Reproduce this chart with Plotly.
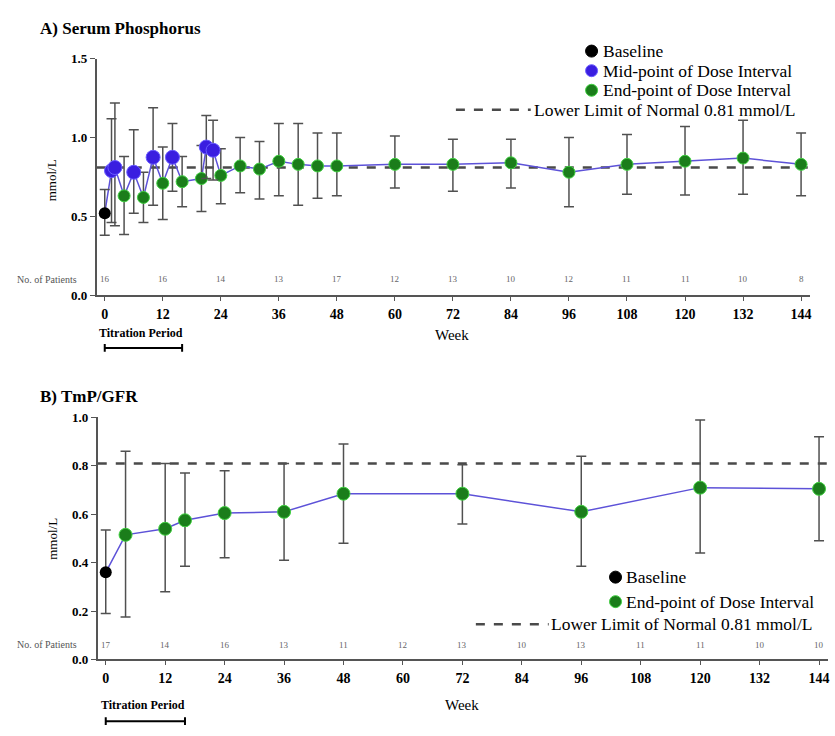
import plotly.graph_objects as go

# ---------------- Data ----------------
weeks_ticks = [0, 12, 24, 36, 48, 60, 72, 84, 96, 108, 120, 132, 144]

# Panel A: Serum Phosphorus
base_week_A = [0]
base_A = [0.52]
base_hi_A = [0.67]
base_lo_A = [0.38]

mid_week_A = [1.4, 2.1, 6, 10, 14, 21, 22.4]
mid_A = [0.79, 0.81, 0.78, 0.875, 0.875, 0.94, 0.92]
mid_hi_A = [1.12, 1.22, 1.05, 1.19, 1.09, 1.14, 1.11]
mid_lo_A = [0.46, 0.44, 0.52, 0.57, 0.66, 0.74, 0.73]

end_week_A = [4, 8, 12, 16, 20, 24, 28, 32, 36, 40, 44, 48, 60, 72, 84, 96, 108, 120, 132, 144]
end_A = [0.63, 0.62, 0.71, 0.72, 0.74, 0.76, 0.82, 0.80, 0.85, 0.83, 0.82, 0.82, 0.83, 0.83, 0.84, 0.78, 0.83, 0.85, 0.87, 0.83]
end_hi_A = [0.88, 0.78, 0.94, 0.88, 0.95, 0.93, 1.00, 0.975, 1.09, 1.09, 1.03, 1.03, 1.01, 0.99, 0.99, 1.00, 1.02, 1.07, 1.11, 1.03]
end_lo_A = [0.385, 0.46, 0.48, 0.56, 0.53, 0.58, 0.65, 0.61, 0.63, 0.57, 0.615, 0.63, 0.68, 0.66, 0.68, 0.56, 0.64, 0.635, 0.64, 0.63]

n_patients_A = ["16", "16", "14", "13", "17", "12", "13", "10", "12", "11", "11", "10", "8"]

# Panel B: TmP/GFR
base_week_B = [0]
base_B = [0.36]
base_hi_B = [0.535]
base_lo_B = [0.19]

end_week_B = [4, 12, 16, 24, 36, 48, 72, 96, 120, 144]
end_B = [0.515, 0.54, 0.575, 0.605, 0.61, 0.685, 0.685, 0.61, 0.71, 0.705]
end_hi_B = [0.86, 0.81, 0.77, 0.78, 0.81, 0.89, 0.805, 0.84, 0.99, 0.92]
end_lo_B = [0.175, 0.28, 0.385, 0.42, 0.41, 0.48, 0.56, 0.385, 0.44, 0.49]

n_patients_B = ["17", "14", "16", "13", "11", "12", "13", "10", "13", "11", "11", "10", "10"]

LLN = 0.81
titration_weeks = [0, 16]

# ---------------- Style ----------------
W, H = 835, 736
FONT = "Liberation Serif"
BLACK = "#000000"
BLUE = "#3a1ee0"
GREEN = "#1b7d1b"
GREEN_EDGE = "#3fcf3f"
LINE = "#5d52d8"
ERR = "#505050"
AXIS = "#555555"


def px(x):
    return x / W


def py(y):
    return 1 - y / H


def err(vals, hi, lo):
    return dict(type="data", symmetric=False,
                array=[h - v for v, h in zip(vals, hi)],
                arrayminus=[v - l for v, l in zip(vals, lo)],
                color=ERR, thickness=1.5, width=5)


fig = go.Figure()

# ---- Panel A ----
allA = sorted(list(zip(base_week_A, base_A)) + list(zip(mid_week_A, mid_A)) + list(zip(end_week_A, end_A)))
fig.add_trace(go.Scatter(x=[p[0] for p in allA], y=[p[1] for p in allA], mode="lines",
                         line=dict(color=LINE, width=1.5), xaxis="x", yaxis="y", showlegend=False))
fig.add_trace(go.Scatter(x=end_week_A, y=end_A, mode="markers", xaxis="x", yaxis="y",
                         marker=dict(size=12, color=GREEN, line=dict(color=GREEN_EDGE, width=1)),
                         error_y=err(end_A, end_hi_A, end_lo_A), showlegend=False))
fig.add_trace(go.Scatter(x=mid_week_A, y=mid_A, mode="markers", xaxis="x", yaxis="y",
                         marker=dict(size=14, color=BLUE, line=dict(color="#6a5cff", width=1)),
                         error_y=err(mid_A, mid_hi_A, mid_lo_A), showlegend=False))
fig.add_trace(go.Scatter(x=base_week_A, y=base_A, mode="markers", xaxis="x", yaxis="y",
                         marker=dict(size=12, color=BLACK),
                         error_y=err(base_A, base_hi_A, base_lo_A), showlegend=False))

# ---- Panel B ----
allB = list(zip(base_week_B, base_B)) + list(zip(end_week_B, end_B))
fig.add_trace(go.Scatter(x=[p[0] for p in allB], y=[p[1] for p in allB], mode="lines",
                         line=dict(color=LINE, width=1.5), xaxis="x2", yaxis="y2", showlegend=False))
fig.add_trace(go.Scatter(x=end_week_B, y=end_B, mode="markers", xaxis="x2", yaxis="y2",
                         marker=dict(size=13, color=GREEN, line=dict(color=GREEN_EDGE, width=1)),
                         error_y=err(end_B, end_hi_B, end_lo_B), showlegend=False))
fig.add_trace(go.Scatter(x=base_week_B, y=base_B, mode="markers", xaxis="x2", yaxis="y2",
                         marker=dict(size=12, color=BLACK),
                         error_y=err(base_B, base_hi_B, base_lo_B), showlegend=False))

# ---- Axes ----
xcommon = dict(tickmode="array", tickvals=weeks_ticks, ticktext=[str(t) for t in weeks_ticks],
               showline=True, linecolor=AXIS, linewidth=2, ticks="outside", ticklen=4,
               tickcolor=AXIS, showgrid=False, zeroline=False,
               tickfont=dict(family=FONT, size=14, color="black", weight="bold"),
               ticklabelstandoff=1)
ycommon = dict(showline=True, linecolor=AXIS, linewidth=2, ticks="outside", ticklen=5,
               tickcolor=AXIS, showgrid=False, zeroline=False, tickformat=".1f",
               tickfont=dict(family=FONT, size=13, color="black", weight="bold"))

pxA = (803 - 105) / 144
pxB = (821 - 106) / 144
fig.update_layout(
    xaxis=dict(domain=[px(97), px(812)], range=[-(105 - 97) / pxA, 144 + (812 - 803) / pxA],
               anchor="y", **xcommon),
    yaxis=dict(domain=[py(294), py(53)], range=[0, 1.5], tickvals=[0, 0.5, 1.0, 1.5],
               anchor="x", **ycommon),
    xaxis2=dict(domain=[px(98), px(830)], range=[-(106 - 98) / pxB, 144 + (830 - 821) / pxB],
                anchor="y2", **xcommon),
    yaxis2=dict(domain=[py(666), py(419)], range=[0, 1.0], tickvals=[0, 0.2, 0.4, 0.6, 0.8, 1.0],
                anchor="x2", **ycommon),
)

shapes = []
annotations = []


def note(x, y, text, size, xanchor="center", xref="paper", bold=False, color="black", angle=0):
    annotations.append(dict(xref=xref, yref="paper", x=x, y=py(y), xanchor=xanchor, yanchor="middle",
                            text=text, showarrow=False, textangle=angle,
                            font=dict(family=FONT, size=size, color=color,
                                      weight="bold" if bold else "normal")))


# LLN dashed lines
for xa, ya in (("x", "y"), ("x2", "y2")):
    shapes.append(dict(type="line", xref=f"{xa} domain", yref=ya, x0=0, x1=1, y0=LLN, y1=LLN,
                       line=dict(color="#4a4a4a", width=2.5, dash="dash"), layer="below"))

# Titration period bars
for xa, ybar in (("x", 348), ("x2", 729)):
    shapes.append(dict(type="line", xref=xa, yref="paper", x0=titration_weeks[0], x1=titration_weeks[1],
                       y0=py(ybar), y1=py(ybar), line=dict(color="black", width=2)))
    for xv in titration_weeks:
        shapes.append(dict(type="line", xref=xa, yref="paper", x0=xv, x1=xv,
                           y0=py(ybar - 4), y1=py(ybar + 4), line=dict(color="black", width=2)))
for xa, ytxt in (("x", 333), ("x2", 713)):
    note(sum(titration_weeks) / 2 - 0.5, ytxt, "Titration Period", 12, xref=xa, bold=True)

# Number of patients rows
for xa, ytxt, ns in (("x", 278, n_patients_A), ("x2", 651, n_patients_B)):
    for wk, n in zip(weeks_ticks, ns):
        note(wk, ytxt, n, 9, xref=xa, color="#666666")
    note(px(79), ytxt, "No. of Patients", 10, xanchor="right", color="#555555")

# Axis titles and panel titles
note(px(453), 335, "Week", 15)
note(px(463), 713, "Week", 15)
note(px(52), 177, "mmol/L", 13, angle=-90)
note(px(53), 543, "mmol/L", 13, angle=-90)
note(px(38), 22, "A) Serum Phosphorus", 17, xanchor="left", bold=True)
note(px(38), 398, "B) TmP/GFR", 17, xanchor="left", bold=True)


# Custom legends
def legend_marker(x, y, fill, edge, r=6):
    shapes.append(dict(type="circle", xref="paper", yref="paper", xsizemode="pixel", ysizemode="pixel",
                       xanchor=px(x), yanchor=py(y), x0=-r, x1=r, y0=-r, y1=r,
                       fillcolor=fill, line=dict(color=edge, width=1)))


def legend_dash(x0, x1, y):
    shapes.append(dict(type="line", xref="paper", yref="paper", x0=px(x0), x1=px(x1), y0=py(y), y1=py(y),
                       line=dict(color="#4a4a4a", width=2.5, dash="dash")))


LEG = 17.5
# Panel A legend
legend_marker(593, 45, BLACK, BLACK)
note(px(602), 45, "Baseline", LEG, xanchor="left")
legend_marker(593, 65, BLUE, "#6a5cff")
note(px(602), 65, "Mid-point of Dose Interval", LEG, xanchor="left")
legend_marker(593, 85, GREEN, GREEN_EDGE)
note(px(602), 85, "End-point of Dose Interval", LEG, xanchor="left")
legend_dash(457, 532, 105)
note(px(533), 105, "Lower Limit of Normal 0.81 mmol/L", LEG, xanchor="left")

# Panel B legend
legend_marker(617, 582, BLACK, BLACK)
note(px(625), 582, "Baseline", LEG, xanchor="left")
legend_marker(617, 607, GREEN, GREEN_EDGE)
note(px(625), 607, "End-point of Dose Interval", LEG, xanchor="left")
legend_dash(477, 550, 630)
note(px(550), 630, "Lower Limit of Normal 0.81 mmol/L", LEG, xanchor="left")

fig.update_layout(
    width=W, height=H,
    margin=dict(l=0, r=0, t=0, b=0),
    paper_bgcolor="white", plot_bgcolor="white",
    showlegend=False,
    shapes=shapes, annotations=annotations,
    font=dict(family=FONT, color="black"),
)

fig.write_html("out.html", config={"displayModeBar": False},
               post_script="document.body.style.margin='0';document.body.style.overflow='hidden';")
